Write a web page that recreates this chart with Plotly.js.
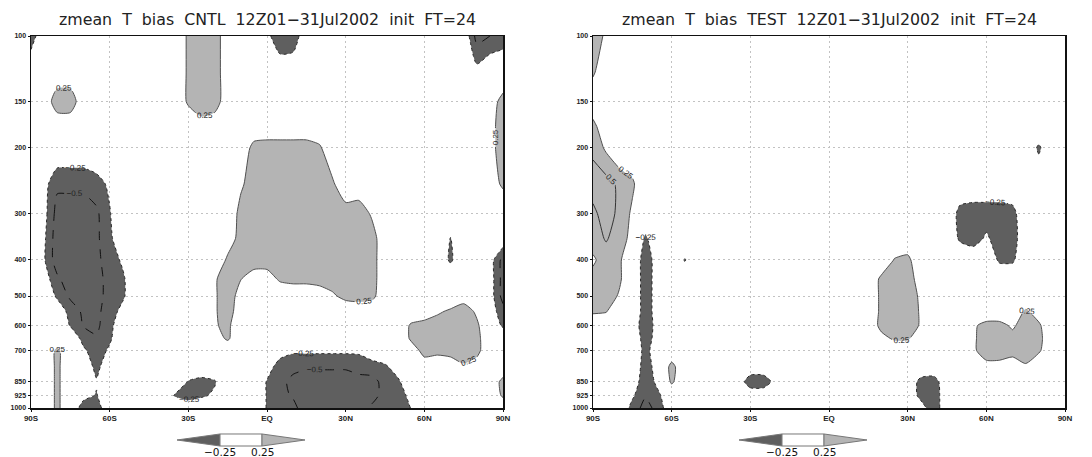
<!DOCTYPE html>
<html><head><meta charset="utf-8">
<script src="https://cdn.plot.ly/plotly-3.0.1.min.js"></script>
<style>html,body{margin:0;padding:0;background:#fff}#chart{width:1092px;height:457px}</style>
</head><body><div id="chart"></div>
<script>
// ---------------- data ----------------
const latitudes = [-90,-85,-80,-75,-70,-65,-60,-55,-50,-45,-40,-35,-30,-25,-20,-15,-10,-5,0,5,10,15,20,25,30,35,40,45,50,55,60,65,70,75,80,85,90];
const pressureLevels = [100,125,150,175,200,250,300,350,400,450,500,550,600,650,700,775,850,925,1000];
const latTickVals = [-90,-60,-30,0,30,60,90];
const latTickText = ['90S','60S','30S','EQ','30N','60N','90N'];
const presTickVals = [100,150,200,300,400,500,600,700,850,925,1000];
const presTickText = ['100','150','200','300','400','500','600','700','850','925','1000'];
const shadeLevels = [-0.25, 0.25];
const extraLevels = [-0.5, 0.5];
const legendLabels = ['\u22120.25', '0.25'];
const panelTitles = ['zmean\u00a0\u00a0T\u00a0\u00a0bias\u00a0\u00a0CNTL\u00a0\u00a012Z01\u221231Jul2002\u00a0\u00a0init\u00a0\u00a0FT=24',
                     'zmean\u00a0\u00a0T\u00a0\u00a0bias\u00a0\u00a0TEST\u00a0\u00a012Z01\u221231Jul2002\u00a0\u00a0init\u00a0\u00a0FT=24'];

// zonal-mean T bias (K), rows = pressureLevels, columns = latitudes
const biasCNTL = [
 [-0.4,0,0,0,0,0,0,0,0,0, 0,0,0.3,0.48,0.45,0,0,0,-0.15,-0.5, -0.45,0,0,0,0,0,0,0,0,0, 0,0,0,0,-0.6,-0.5,-0.4],
 [0,0,0,0,0,0,0,0,0,0, 0,0,0.3,0.48,0.45,0,0,0,0,0, 0,0,0,0,0,0,0,0,0,0, 0,0,0,0,-0.15,0,0],
 [0,0,0.45,0.45,0,0,0,0,0,0, 0,0,0.3,0.48,0.45,0,0,0,0,0, 0,0,0,0,0,0,0,0,0,0, 0,0,0,0,0,0.1,0.35],
 [0,0,0,0,0,0,0,0,0,0, 0,0,0,0.1,0,0,0,0,0,0, 0,0,0,0,0,0,0,0,0,0, 0,0,0,0,0,0.1,0.45],
 [0,0,0,0,0,0,0,0,0,0, 0,0,0,0,0,0,0,0.36,0.4,0.4, 0.4,0.4,0.3,0,0,0,0,0,0,0, 0,0,0,0,0,0.1,0.45],
 [0,-0.15,-0.45,-0.45,-0.45,-0.35,-0.2,0,0,0, 0,0,0,0,0,0,0.2,0.4,0.4,0.4, 0.4,0.4,0.4,0.3,0,0,0,0,0,0, 0,0,0,0,0,0.1,0.3],
 [0,-0.15,-0.6,-0.6,-0.6,-0.55,-0.27,0,0,0, 0,0,0,0,0,0,0.35,0.4,0.4,0.4, 0.4,0.4,0.4,0.4,0.4,0.45,0.2,0,0,0, 0,0,0,0,0,0,0],
 [0,-0.2,-0.65,-0.65,-0.65,-0.55,-0.32,0,0,0, 0,0,0,0,0,0.1,0.35,0.4,0.4,0.4, 0.4,0.4,0.4,0.4,0.4,0.4,0.4,0,0,0, 0,0,-0.26,0,0,0,0],
 [0,-0.22,-0.65,-0.65,-0.65,-0.55,-0.4,-0.2,0,0, 0,0,0,0,0,0.3,0.4,0.4,0.4,0.4, 0.4,0.4,0.4,0.4,0.4,0.4,0.4,0,0,0, 0,0,-0.3,0,0,-0.1,-0.6],
 [0,-0.1,-0.45,-0.65,-0.65,-0.55,-0.45,-0.3,0,0, 0,0,0,0,0.2,0.45,0.26,0.1,0.1,0.3, 0.35,0.35,0.35,0.4,0.4,0.4,0.4,0,0,0, 0,0,0,0,0,-0.1,-0.6],
 [0,0,-0.3,-0.55,-0.6,-0.55,-0.45,-0.3,0,0, 0,0,0,0,0.2,0.45,0.1,0,0,0, 0,0,0.1,0.2,0.35,0.4,0.35,0,0,0, 0,0,0,0.1,0,-0.1,-0.6],
 [0,0,-0.05,-0.35,-0.55,-0.55,-0.4,-0.15,0,0, 0,0,0,0,0.2,0.45,0,0,0,0, 0,0,0,0,0,0,0,0,0,0, 0,0.2,0.3,0.4,0.2,-0.1,-0.4],
 [0,0,0,-0.27,-0.52,-0.55,-0.35,0,0,0, 0,0,0,0,0.22,0.32,0,0,0,0, 0,0,0,0,0,0,0,0,0,0.3, 0.4,0.4,0.4,0.45,0.3,0,-0.3],
 [0,0,0,0,-0.35,-0.48,-0.3,0,0,0, 0,0,0,0,0.1,0.3,0,0,0,0, 0,0,0,0,0,0,0,0,0,0.3, 0.4,0.4,0.4,0.45,0.35,0,0],
 [0,0,0.32,0,-0.2,-0.4,-0.2,0,0,0, 0,0,0,0,0,0,0,0,0,-0.1, -0.2,-0.2,-0.2,-0.2,-0.2,-0.2,-0.1,0,0,0.1, 0.35,0.35,0.35,0.45,0.35,0,0],
 [0,0,0.32,0,0,-0.35,0,0,0,0, 0,0,0,0,0,0,0,0,-0.1,-0.4, -0.45,-0.45,-0.45,-0.45,-0.45,-0.4,-0.35,-0.3,-0.1,0, 0.1,0,0.1,0.2,0.1,0,0],
 [0,0,0.32,0,0,-0.22,0,0,0,0, 0,0,-0.27,-0.35,-0.28,0,0,0,-0.27,-0.45, -0.55,-0.7,-0.7,-0.7,-0.7,-0.6,-0.6,-0.4,-0.3,0, 0,0,0,0,0,0,0.35],
 [0,0,0.32,0,-0.15,-0.27,0,0,0,0, 0,-0.28,-0.4,-0.3,-0.2,0,0,0,-0.27,-0.45, -0.52,-0.7,-0.7,-0.7,-0.7,-0.6,-0.6,-0.4,-0.4,-0.15, 0,0,0,0,0,0,0.3],
 [0,0,0.32,0,-0.4,-0.4,0,0,0,0, 0,0,0,0,0,0,0,0,-0.27,-0.4, -0.45,-0.6,-0.6,-0.6,-0.6,-0.55,-0.45,-0.4,-0.4,-0.24, 0,0,0,0,0,0,0]
];

const biasTEST = [
 [0.4,0.2,0,0,0,0,0,0,0,0, 0,0,0,0,0,0,0,0,0,0, 0,0,0,0,0,0,0,0,0,0, 0,0,0,0,0,0,0],
 [0.3,0,0,0,0,0,0,0,0,0, 0,0,0,0,0,0,0,0,0,0, 0,0,0,0,0,0,0,0,0,0, 0,0,0,0,0,0,0],
 [0,0,0,0,0,0,0,0,0,0, 0,0,0,0,0,0,0,0,0,0, 0,0,0,0,0,0,0,0,0,0, 0,0,0,0,0,0,0],
 [0.35,0,0,0,0,0,0,0,0,0, 0,0,0,0,0,0,0,0,0,0, 0,0,0,0,0,0,0,0,0,0, 0,0,0,0,0,0,0],
 [0.45,0.2,0,0,0,0,0,0,0,0, 0,0,0,0,0,0,0,0,0,0, 0,0,0,0,0,0,0,0,0,0, 0,0,0,0,-0.3,0,0],
 [0.6,0.6,0.45,0.3,0,0,0,0,0,0, 0,0,0,0,0,0,0,0,0,0, 0,0,0,0,0,0,0,0,0,0, 0,0,0,0,0,0,0],
 [0.45,0.6,0.45,0.2,0,0,0,0,0,0, 0,0,0,0,0,0,0,0,0,0, 0,0,0,0,0,0,0,0,-0.35,-0.4, -0.4,-0.4,-0.35,0,0,0,0],
 [0.4,0.52,0.4,0.15,-0.3,0,0,0,0,0, 0,0,0,0,0,0,0,0,0,0, 0,0,0,0,0,0,0,0,-0.3,-0.4, -0.2,-0.4,-0.4,0,0,0,0],
 [0.2,0.4,0.3,0,-0.4,-0.1,0,-0.27,0,0, 0,0,0,0,0,0,0,0,0,0, 0,0,0,0.27,0.33,0,0,0,0,0, 0,-0.3,-0.3,0,0,0,0],
 [0.35,0.4,0.3,0,-0.4,-0.1,0,0,0,0, 0,0,0,0,0,0,0,0,0,0, 0,0,0.32,0.4,0.4,0.1,0,0,0,0, 0,0,0,0,0,0,0],
 [0.35,0.4,0.22,0,-0.4,-0.1,0,0,0,0, 0,0,0,0,0,0,0,0,0,0, 0,0,0.32,0.4,0.4,0.2,0,0,0,0, 0,0,0,0,0,0,0],
 [0.3,0.27,0,0,-0.4,-0.1,0,0,0,0, 0,0,0,0,0,0,0,0,0,0, 0,0,0.32,0.4,0.4,0.22,0,0,0,0, 0,0,0,0.3,0.1,0,0],
 [0,0,0,-0.05,-0.45,-0.1,0,0,0,0, 0,0,0,0,0,0,0,0,0,0, 0,0,0.35,0.4,0.4,0.22,0,0,0,0.2, 0.35,0.35,0.2,0.4,0.3,0,0],
 [0,0,0,0,-0.4,-0.1,0,0,0,0, 0,0,0,0,0,0,0,0,0,0, 0,0,0.15,0.3,0.3,0,0,0,0,0.2, 0.4,0.4,0.35,0.45,0.35,0,0],
 [0,0,0,0,-0.35,-0.05,0,0,0,0, 0,0,0,0,0,0,0,0,0,0, 0,0,0,0,0,0,0,0,0,0.2, 0.4,0.4,0.35,0.45,0.3,0,0],
 [0,0,0,0,-0.4,-0.1,0.35,0,0,0, 0,0,0,0,0,0,0,0,0,0, 0,0,0,0,0,0,0,0,0,0, 0.15,0.15,0.1,0.2,0,0,0],
 [0,0,0,-0.05,-0.45,-0.15,0.3,0,0,0, 0,0,-0.45,-0.45,-0.1,0,0,0,0,0, 0,0,0,0,0,-0.35,-0.4,0,0,0, 0,0,0,0,0,0,0],
 [0,0,0,-0.2,-0.48,-0.3,0,0,0,0, 0,0,0,0,0,0,0,0,0,0, 0,0,0,0,0,-0.35,-0.45,0,0,0, 0,0,0,0,0,0,0],
 [0,0,0,-0.35,-0.6,-0.4,0,0,0,0, 0,0,0,0,0,0,0,0,0,0, 0,0,0,0,0,-0.1,-0.45,0,0,0, 0,0,0,0,0,0,0]
];

// ---------------- styling ----------------
const W = 1092, H = 457;
const DARK = '#5f5f5f', LIGHT = '#b4b4b4';
const px = x => x / W, py = y => 1 - y / H;

// NOTE: on the reversed (pressure) axis Plotly's constraint fill comes out on the
// opposite side of the boundary, so the operators are swapped to shade z<-0.25 / z>0.25.
function panelTraces(z, xa, ya) {
  const base = {type: 'contour', x: latitudes, y: pressureLevels, z: z, xaxis: xa, yaxis: ya,
                hoverinfo: 'skip', showscale: false};
  const lab = {size: 8, color: '#222', family: 'Liberation Sans, Arial, sans-serif'};
  return [
    Object.assign({}, base, {contours: {type: 'constraint', operation: '>', value: shadeLevels[0], showlabels: true, labelfont: lab},
      fillcolor: DARK, line: {color: '#2a2a2a', width: 1, dash: 'dot', smoothing: 0.6}}),
    Object.assign({}, base, {contours: {type: 'constraint', operation: '<', value: shadeLevels[1], showlabels: true, labelfont: lab},
      fillcolor: LIGHT, line: {color: '#505050', width: 1, smoothing: 0.6}}),
    Object.assign({}, base, {contours: {type: 'constraint', operation: '<', value: extraLevels[0], showlabels: true, labelfont: lab},
      fillcolor: 'rgba(0,0,0,0)', line: {color: '#111', width: 1, dash: 'dash', smoothing: 0.6}}),
    Object.assign({}, base, {contours: {type: 'constraint', operation: '>', value: extraLevels[1], showlabels: true, labelfont: lab},
      fillcolor: 'rgba(0,0,0,0)', line: {color: '#333', width: 1, smoothing: 0.6}})
  ];
}

const data = panelTraces(biasCNTL, 'x', 'y').concat(panelTraces(biasTEST, 'x2', 'y2'));

const tickFont = {family: 'Liberation Sans Narrow, Liberation Sans, Arial, sans-serif', size: 8, color: '#222', weight: 'bold'};
const gridStyle = {showgrid: true, gridcolor: '#c2c2c2', griddash: '2px,3px', gridwidth: 1, zeroline: false};
function xAxis(domain, anchor) {
  return Object.assign({domain: domain, anchor: anchor, range: [-90, 90], tickmode: 'array', tickvals: latTickVals, ticktext: latTickText,
    showline: true, mirror: true, linecolor: '#111', linewidth: 1.5, ticks: 'outside', ticklen: 2, tickcolor: '#111',
    tickfont: tickFont, fixedrange: true}, gridStyle);
}
function yAxis(anchor) {
  return Object.assign({domain: [py(408), py(36)], anchor: anchor, type: 'log', range: [3, 2], tickmode: 'array',
    tickvals: presTickVals, ticktext: presTickText,
    showline: true, mirror: true, linecolor: '#111', linewidth: 1.5, ticks: 'outside', ticklen: 2, tickcolor: '#111',
    tickfont: Object.assign({}, tickFont, {size: 7}), fixedrange: true}, gridStyle);
}

// colour-key wedges (legend for the shading)
function keyShapes(x0) {
  const a = x0, b = x0 + 43, c = x0 + 85, d = x0 + 128, ym = 440, yt = 434, yb = 446;
  const P = (x, y) => px(x).toFixed(5) + ',' + py(y).toFixed(5);
  const ln = {color: '#777', width: 1};
  return [
    {type: 'path', xref: 'paper', yref: 'paper', path: 'M' + P(a, ym) + 'L' + P(b, yt) + 'L' + P(b, yb) + 'Z', fillcolor: DARK, line: ln},
    {type: 'path', xref: 'paper', yref: 'paper', path: 'M' + P(b, yt) + 'L' + P(c, yt) + 'L' + P(c, yb) + 'L' + P(b, yb) + 'Z', fillcolor: '#ffffff', line: ln},
    {type: 'path', xref: 'paper', yref: 'paper', path: 'M' + P(c, yt) + 'L' + P(d, ym) + 'L' + P(c, yb) + 'Z', fillcolor: LIGHT, line: ln}
  ];
}
function keyLabels(x0) {
  const f = {family: 'DejaVu Sans, sans-serif', size: 10.5, color: '#111'};
  return [
    {xref: 'paper', yref: 'paper', x: px(x0 + 43), y: py(452), text: legendLabels[0], showarrow: false, font: f, xanchor: 'center', yanchor: 'middle'},
    {xref: 'paper', yref: 'paper', x: px(x0 + 85), y: py(452), text: legendLabels[1], showarrow: false, font: f, xanchor: 'center', yanchor: 'middle'}
  ];
}
const titleFont = {family: 'DejaVu Sans, sans-serif', size: 15.8, color: '#222'};

const layout = {
  width: W, height: H, margin: {l: 0, r: 0, t: 0, b: 0},
  paper_bgcolor: '#ffffff', plot_bgcolor: '#ffffff', showlegend: false,
  xaxis: xAxis([px(31), px(503)], 'y'),
  yaxis: yAxis('x'),
  xaxis2: xAxis([px(593), px(1065)], 'y2'),
  yaxis2: yAxis('x2'),
  shapes: keyShapes(177).concat(keyShapes(739)),
  annotations: [
    {xref: 'paper', yref: 'paper', x: px(267), y: py(19), text: panelTitles[0], showarrow: false, font: titleFont, xanchor: 'center', yanchor: 'middle'},
    {xref: 'paper', yref: 'paper', x: px(829), y: py(19), text: panelTitles[1], showarrow: false, font: titleFont, xanchor: 'center', yanchor: 'middle'}
  ].concat(keyLabels(177)).concat(keyLabels(739))
};

Plotly.newPlot('chart', data, layout, {displayModeBar: false, staticPlot: true});
</script>
</body></html>
